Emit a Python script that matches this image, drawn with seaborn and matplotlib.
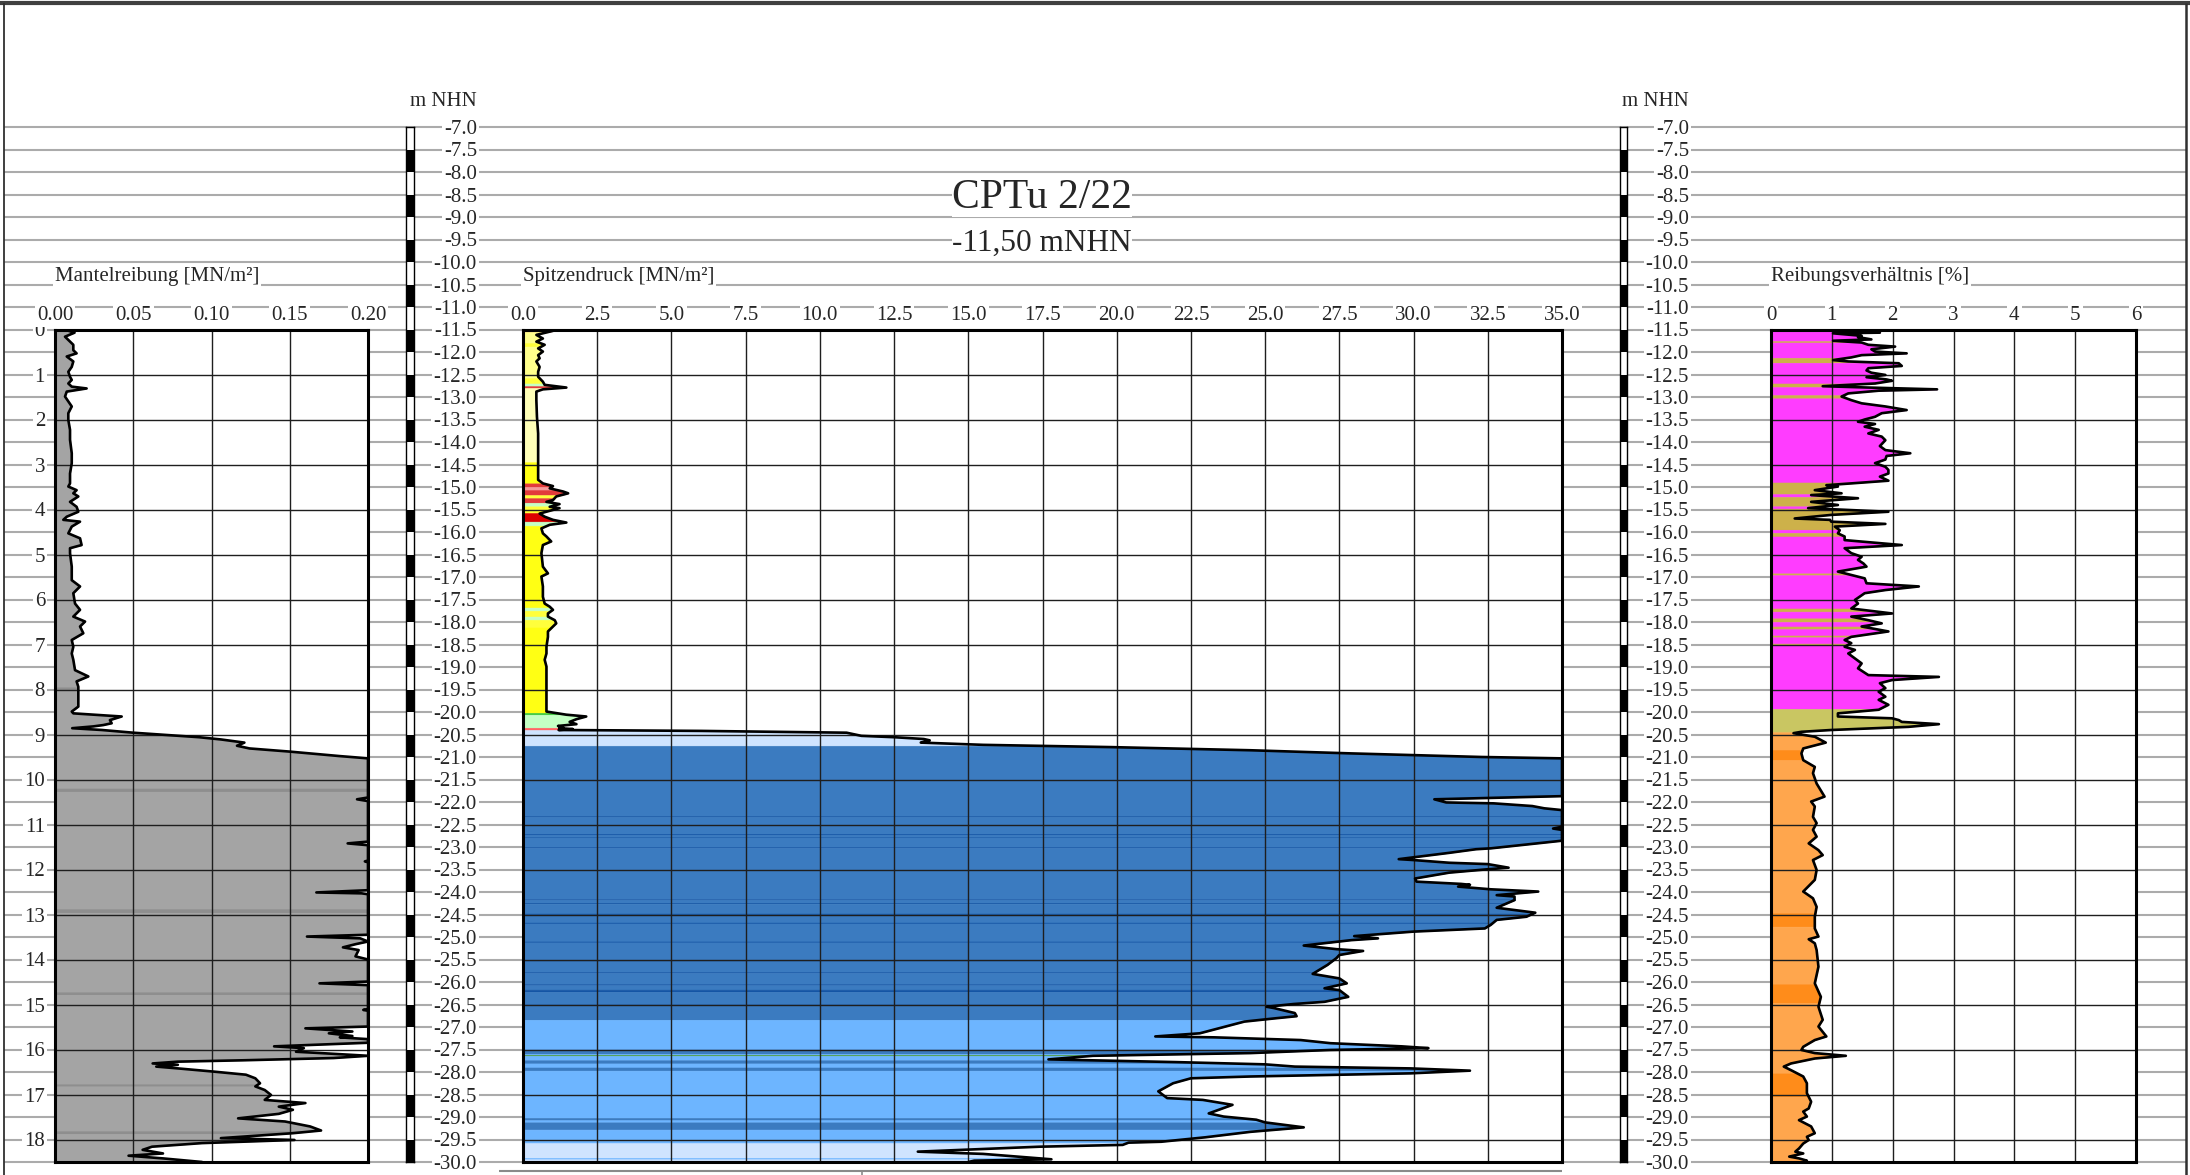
import numpy as np
import matplotlib.pyplot as plt
import seaborn as sns

sns.set_theme(style="white")
plt.rcParams.update({
    'font.family': ['Liberation Serif', 'DejaVu Serif'],
    'axes.unicode_minus': False,
})

# ---------------- data read off the sounding log ----------------
# depth below start point [m], start point at -11.50 m NHN

# sleeve friction (Mantelreibung) [MN/m²]
fs_depth = [0.00, 0.07, 0.16, 0.23, 0.34, 0.46, 0.53, 0.60, 0.71, 0.83,
            0.94, 1.05, 1.12, 1.20, 1.27, 1.31, 1.38, 1.49, 1.71, 1.86,
            2.01, 2.23, 2.45, 2.75, 2.97, 3.20, 3.42, 3.49, 3.57, 3.64,
            3.71, 3.83, 3.94, 4.05, 4.16, 4.23, 4.27, 4.38, 4.53, 4.64,
            4.79, 4.86, 4.97, 5.27, 5.57, 5.71, 5.86, 6.09, 6.23, 6.38,
            6.49, 6.60, 6.75, 6.90, 7.05, 7.20, 7.34, 7.57, 7.71, 7.82,
            7.94, 8.16, 8.38, 8.49, 8.53, 8.60, 8.68, 8.75, 8.79, 8.82,
            8.86, 8.90, 8.96, 9.06, 9.11, 9.18, 9.25, 9.31, 9.38, 9.48,
            9.53, 10.40, 10.44, 10.48, 11.38, 11.42, 11.46, 11.80, 11.82, 11.84,
            12.46, 12.51, 12.53, 12.55, 13.45, 13.49, 13.53, 13.60, 13.66, 13.73,
            13.79, 13.86, 13.93, 14.00, 14.49, 14.53, 14.57, 15.10, 15.12, 15.14,
            15.49, 15.53, 15.60, 15.64, 15.70, 15.73, 15.77, 15.85, 15.93, 15.97,
            16.05, 16.08, 16.14, 16.19, 16.24, 16.27, 16.31, 16.34, 16.38, 16.42,
            16.49, 16.56, 16.64, 16.75, 16.82, 16.90, 17.01, 17.12, 17.19, 17.27,
            17.34, 17.43, 17.53, 17.60, 17.71, 17.80, 17.86, 17.97, 18.01, 18.08,
            18.16, 18.23, 18.31, 18.36, 18.42, 18.50]
fs_value = [0.0060, 0.0125, 0.0064, 0.0085, 0.0117, 0.0117, 0.0138, 0.0075, 0.0117, 0.0107,
            0.0085, 0.0096, 0.0107, 0.0085, 0.0107, 0.0202, 0.0075, 0.0064, 0.0107, 0.0085,
            0.0085, 0.0096, 0.0096, 0.0107, 0.0107, 0.0096, 0.0096, 0.0085, 0.0138, 0.0117,
            0.0149, 0.0096, 0.0138, 0.0149, 0.0075, 0.0053, 0.0160, 0.0107, 0.0085, 0.0160,
            0.0170, 0.0096, 0.0096, 0.0107, 0.0107, 0.0160, 0.0117, 0.0128, 0.0160, 0.0117,
            0.0192, 0.0160, 0.0181, 0.0107, 0.0117, 0.0107, 0.0117, 0.0128, 0.0213, 0.0138,
            0.0149, 0.0149, 0.0149, 0.0107, 0.0117, 0.0426, 0.0351, 0.0362, 0.0309, 0.0245,
            0.0110, 0.0300, 0.0500, 0.0920, 0.1060, 0.1210, 0.1163, 0.1243, 0.1500, 0.1820,
            0.2000, 0.2000, 0.1930, 0.2000, 0.2000, 0.1870, 0.2000, 0.2000, 0.1980, 0.2000,
            0.2000, 0.1670, 0.1960, 0.2000, 0.2000, 0.1610, 0.1950, 0.2000, 0.1920, 0.1840,
            0.1940, 0.1930, 0.1920, 0.2000, 0.2000, 0.1690, 0.2000, 0.2000, 0.1970, 0.2000,
            0.2000, 0.1600, 0.1900, 0.1750, 0.1900, 0.1820, 0.2000, 0.2000, 0.1400, 0.1590,
            0.1540, 0.1700, 0.2000, 0.1780, 0.1200, 0.0785, 0.0624, 0.0785, 0.0647, 0.0785,
            0.1010, 0.1220, 0.1280, 0.1310, 0.1280, 0.1340, 0.1380, 0.1340, 0.1600, 0.1430,
            0.1520, 0.1430, 0.1170, 0.1470, 0.1630, 0.1700, 0.1520, 0.1060, 0.1530, 0.0940,
            0.0620, 0.0560, 0.0690, 0.0470, 0.0690, 0.0940]

# cone resistance (Spitzendruck) [MN/m²]
qc_depth = [0.00, 0.03, 0.12, 0.20, 0.27, 0.34, 0.42, 0.49, 0.57, 0.64,
            0.71, 0.83, 0.94, 1.05, 1.16, 1.23, 1.29, 1.33, 1.38, 1.57,
            1.94, 2.31, 2.68, 3.05, 3.34, 3.42, 3.48, 3.53, 3.60, 3.64,
            3.71, 3.79, 3.83, 3.88, 3.94, 3.97, 4.01, 4.09, 4.16, 4.23,
            4.29, 4.34, 4.42, 4.53, 4.60, 4.71, 4.79, 4.97, 5.27, 5.42,
            5.49, 5.71, 5.94, 6.09, 6.16, 6.23, 6.31, 6.38, 6.46, 6.53,
            6.60, 6.71, 6.83, 7.05, 7.20, 7.34, 7.49, 7.86, 8.23, 8.49,
            8.56, 8.60, 8.66, 8.72, 8.77, 8.81, 8.84, 8.86, 8.88, 8.90,
            8.92, 8.96, 9.03, 9.06, 9.10, 9.13, 9.18, 9.23, 9.28, 9.35,
            9.42, 9.46, 9.50, 9.53, 10.37, 10.44, 10.51, 10.53, 10.59, 10.64,
            10.68, 11.05, 11.09, 11.12, 11.36, 11.53, 11.55, 11.63, 11.77, 11.79,
            11.85, 11.88, 11.96, 12.00, 12.07, 12.20, 12.27, 12.32, 12.34, 12.38,
            12.44, 12.49, 12.57, 12.60, 12.68, 12.85, 12.96, 13.05, 13.12, 13.23,
            13.31, 13.38, 13.48, 13.53, 13.57, 13.69, 13.77, 13.81, 13.90, 13.97,
            14.12, 14.32, 14.42, 14.53, 14.64, 14.68, 14.83, 14.94, 14.99, 15.05,
            15.08, 15.19, 15.26, 15.31, 15.38, 15.45, 15.64, 15.71, 15.73, 15.79,
            15.86, 15.93, 15.97, 16.01, 16.08, 16.14, 16.22, 16.28, 16.33, 16.38,
            16.42, 16.47, 16.53, 16.60, 16.64, 16.75, 16.93, 17.08, 17.12, 17.23,
            17.42, 17.49, 17.56, 17.62, 17.73, 17.83, 17.95, 18.05, 18.07, 18.12,
            18.16, 18.27, 18.32, 18.44, 18.47, 18.50]
qc_value = [0.50, 1.01, 0.45, 0.67, 0.45, 0.73, 0.51, 0.67, 0.51, 0.56,
            0.45, 0.56, 0.51, 0.51, 0.67, 0.73, 1.46, 0.67, 0.45, 0.45,
            0.47, 0.51, 0.51, 0.51, 0.51, 0.67, 1.01, 0.90, 1.35, 1.52,
            1.12, 1.01, 0.79, 1.23, 0.90, 1.23, 1.01, 0.56, 0.73, 1.01,
            1.46, 0.90, 0.62, 0.67, 0.79, 0.95, 0.67, 0.62, 0.67, 0.84,
            0.62, 0.67, 0.67, 0.73, 0.90, 1.01, 0.84, 0.84, 1.07, 1.12,
            1.01, 0.84, 0.84, 0.79, 0.79, 0.73, 0.79, 0.79, 0.79, 0.79,
            1.46, 2.13, 1.80, 1.57, 1.80, 1.18, 1.35, 1.23, 1.68, 1.20,
            6.00, 10.9, 11.4, 12.5, 13.5, 13.7, 13.4, 15.5, 19.8, 24.5,
            27.9, 30.1, 32.3, 35.0, 35.0, 30.7, 31.1, 32.7, 34.0, 34.4,
            35.0, 35.0, 34.7, 35.0, 35.0, 32.6, 32.1, 31.2, 29.5, 30.0,
            31.2, 32.5, 33.2, 32.4, 31.2, 30.05, 30.1, 31.6, 31.9, 31.5,
            32.6, 34.2, 32.8, 33.4, 33.4, 32.8, 34.1, 33.8, 32.8, 32.6,
            32.4, 30.0, 28.0, 28.8, 27.9, 26.3, 27.4, 28.3, 27.5, 27.4,
            27.1, 26.6, 27.5, 27.75, 27.0, 27.5, 27.8, 27.0, 25.95, 25.05,
            25.3, 26.0, 26.06, 25.3, 24.3, 23.9, 22.8, 21.3, 23.3, 26.2,
            27.2, 29.6, 30.5, 27.2, 24.5, 19.2, 17.7, 22.0, 25.0, 26.0,
            29.9, 31.9, 29.9, 24.5, 22.5, 21.9, 21.4, 21.7, 22.9, 23.9,
            23.1, 23.6, 24.7, 25.0, 26.3, 24.5, 23.0, 21.5, 20.4, 20.2,
            17.4, 13.3, 15.5, 17.8, 15.2, 15.0]

# friction ratio (Reibungsverhältnis) [%]
rf_depth = [0.00, 0.07, 0.085, 0.14, 0.17, 0.22, 0.25, 0.29, 0.34, 0.38,
            0.44, 0.49, 0.53, 0.57, 0.62, 0.68, 0.71, 0.75, 0.81, 0.86,
            0.91, 0.96, 1.01, 1.06, 1.11, 1.14, 1.20, 1.26, 1.29, 1.33,
            1.36, 1.42, 1.49, 1.57, 1.64, 1.71, 1.79, 1.86, 1.94, 2.00,
            2.05, 2.10, 2.16, 2.23, 2.31, 2.38, 2.46, 2.59, 2.68, 2.75,
            2.81, 2.89, 2.97, 3.05, 3.12, 3.20, 3.27, 3.36, 3.42, 3.46,
            3.49, 3.57, 3.64, 3.68, 3.75, 3.83, 3.90, 3.97, 4.05, 4.12,
            4.20, 4.23, 4.27, 4.32, 4.38, 4.46, 4.53, 4.60, 4.68, 4.79,
            4.86, 4.97, 5.05, 5.12, 5.20, 5.27, 5.38, 5.455, 5.53, 5.64,
            5.71, 5.79, 5.86, 6.01, 6.09, 6.20, 6.31, 6.38, 6.46, 6.53,
            6.60, 6.71, 6.83, 6.90, 6.97, 7.05, 7.12, 7.20, 7.31, 7.42,
            7.53, 7.68, 7.72, 7.79, 7.86, 7.97, 8.05, 8.16, 8.23, 8.34,
            8.45, 8.53, 8.60, 8.64, 8.68, 8.72, 8.77, 8.83, 8.90, 8.94,
            8.97, 9.05, 9.18, 9.31, 9.42, 9.57, 9.72, 9.86, 10.09, 10.38,
            10.49, 10.60, 10.83, 10.97, 11.12, 11.27, 11.42, 11.57, 11.68, 11.79,
            12.01, 12.23, 12.49, 12.64, 12.83, 13.05, 13.31, 13.49, 13.55, 13.64,
            13.79, 14.16, 14.53, 14.83, 15.05, 15.34, 15.49, 15.71, 15.79, 15.94,
            16.01, 16.08, 16.14, 16.20, 16.31, 16.38, 16.46, 16.60, 16.75, 16.97,
            17.16, 17.31, 17.38, 17.49, 17.57, 17.71, 17.86, 17.94, 18.01, 18.09,
            18.20, 18.27, 18.31, 18.38, 18.42, 18.47, 18.50]
rf_value = [1.10, 1.79, 1.02, 1.49, 1.43, 1.65, 1.02, 1.49, 1.60, 2.04,
            1.65, 1.71, 2.23, 1.49, 1.32, 1.02, 1.27, 2.10, 2.15, 1.60,
            1.57, 1.65, 1.88, 1.57, 1.90, 1.99, 1.71, 0.85, 1.60, 2.73,
            1.77, 1.27, 1.16, 1.32, 1.49, 1.88, 2.23, 1.82, 1.71, 1.54,
            1.43, 1.71, 1.54, 1.77, 1.60, 1.82, 1.88, 1.79, 1.88, 2.29,
            1.90, 1.88, 1.71, 1.88, 1.93, 1.93, 1.79, 1.93, 1.32, 0.91,
            1.10, 0.72, 1.16, 0.66, 1.43, 0.66, 1.10, 0.61, 1.93, 0.99,
            0.39, 0.97, 0.99, 1.88, 1.05, 1.13, 1.10, 1.21, 1.21, 2.15,
            1.21, 1.32, 1.49, 1.43, 1.52, 1.57, 1.10, 1.32, 1.54, 1.57,
            2.43, 1.88, 1.54, 1.38, 1.43, 1.32, 1.99, 1.32, 1.60, 1.82,
            1.49, 1.93, 1.32, 1.21, 1.32, 1.21, 1.38, 1.27, 1.38, 1.49,
            1.43, 1.60, 2.76, 1.99, 1.79, 1.88, 1.77, 1.88, 1.77, 1.93,
            1.77, 1.10, 1.10, 1.99, 2.10, 2.15, 2.76, 2.26, 0.99, 0.50,
            0.37, 0.72, 0.90, 0.53, 0.50, 0.53, 0.72, 0.69, 0.75, 0.88,
            0.66, 0.72, 0.69, 0.75, 0.69, 0.75, 0.62, 0.78, 0.85, 0.69,
            0.75, 0.72, 0.53, 0.69, 0.75, 0.72, 0.72, 0.78, 0.62, 0.72,
            0.75, 0.78, 0.72, 0.82, 0.78, 0.85, 0.78, 0.91, 0.72, 0.53,
            0.50, 0.72, 1.23, 0.72, 0.33, 0.21, 0.33, 0.53, 0.59, 0.59,
            0.66, 0.62, 0.53, 0.59, 0.46, 0.66, 0.72, 0.59, 0.62, 0.53,
            0.46, 0.40, 0.53, 0.30, 0.46, 0.59, 0.55]

# soil-behaviour colour bands: top depth of each band and its colour key
fs_zone_top = [0.00, 7.94, 8.01, 10.18, 10.27, 12.88, 12.96, 14.72, 14.79, 16.77,
               16.82, 17.81, 17.88]
fs_zone_key = ['grey', 'dgrey', 'grey', 'dgrey', 'grey', 'dgrey', 'grey', 'dgrey', 'grey', 'dgrey',
               'grey', 'dgrey', 'grey']

qc_zone_top = [0.00, 0.05, 0.30, 0.38, 1.08, 1.20, 1.26, 1.30, 2.95, 3.42,
               3.50, 3.57, 3.68, 3.75, 3.85, 3.93, 4.08, 4.27, 4.36, 6.18,
               6.25, 6.38, 6.45, 6.62, 8.52, 8.56, 8.85, 8.90, 9.25, 10.00,
               10.03, 10.81, 10.83, 11.22, 11.24, 11.27, 11.29, 11.50, 11.52, 12.65,
               12.67, 12.74, 12.76, 12.98, 13.01, 13.18, 13.20, 13.60, 13.62, 14.01,
               14.04, 14.28, 14.30, 14.55, 14.57, 14.67, 14.72, 15.00, 15.03, 15.34,
               16.00, 16.10, 16.12, 16.14, 16.24, 16.31, 16.40, 16.47, 17.52, 17.57,
               17.62, 17.78, 18.08, 18.41, 18.44]
qc_zone_key = ['red', 'pale', 'yel', 'pale', 'yel', 'lgreen', 'red', 'pale2', 'yel2', 'red',
               'pink', 'red', 'yel', 'red', 'lgreen', 'yel', 'dred', 'lgreen', 'yel2', 'lgreen',
               'yel', 'lgreen', 'yel', 'yel2', 'green', 'lgreen', 'lred', 'vlblue', 'blue', 'dblue',
               'blue', 'dblue', 'blue', 'dblue', 'blue', 'dblue', 'blue', 'dblue', 'blue', 'dblue',
               'blue', 'dblue', 'blue', 'dblue', 'blue', 'dblue', 'blue', 'dblue', 'blue', 'dblue',
               'blue', 'dblue', 'blue', 'dblue', 'blue', 'dblue', 'blue', 'dblue', 'blue', 'lblue',
               'blue', 'lblue', 'dgreen', 'lblue', 'blue', 'lblue', 'blue', 'lblue', 'blue', 'lblue',
               'blue', 'lblue', 'vlblue', 'lblue', 'vlblue']

rf_zone_top = [0.00, 0.26, 0.29, 0.63, 0.74, 1.20, 1.28, 1.46, 1.53, 3.40,
               3.66, 3.72, 3.93, 3.98, 4.45, 4.52, 4.60, 5.42, 5.46, 6.20,
               6.27, 6.42, 6.50, 6.60, 6.66, 6.80, 6.84, 6.98, 7.02, 8.43,
               8.95, 9.34, 9.57, 12.97, 13.27, 14.55, 14.97, 16.53, 17.05]
rf_zone_key = ['mag', 'olive', 'mag', 'olive', 'mag', 'olive', 'mag', 'olive', 'mag', 'olive',
               'mag', 'olive', 'mag', 'olive', 'mag', 'olive', 'mag', 'olive', 'mag', 'olive',
               'mag', 'olive', 'mag', 'olive', 'mag', 'olive', 'mag', 'olive', 'mag', 'khaki',
               'orange', 'dorange', 'orange', 'dorange', 'orange', 'dorange', 'orange', 'dorange', 'orange']

ZONE_COLORS = {
    'grey': '#a4a4a4', 'dgrey': '#8e8e8e',
    'red': '#e23b3b', 'dred': '#dc0000', 'lred': '#ff6464', 'pink': '#f59a9a',
    'pale': '#ffff8c', 'pale2': '#ffffb8', 'yel': '#ffff3c', 'yel2': '#ffff14',
    'lgreen': '#c4ffc4', 'green': '#3cc83c', 'dgreen': '#4b9a3b',
    'vlblue': '#cfe4ff', 'lblue': '#6db5ff', 'blue': '#3b7bc0', 'dblue': '#1455a5',
    'mag': '#ff3cff', 'olive': '#cdb14a', 'khaki': '#c9c662',
    'orange': '#ffa64d', 'dorange': '#ff8c1a',
}

elev_ticks = np.arange(-7.0, -30.01, -0.5)
depth_labels = list(range(0, 19))
fs_ticks = [0.00, 0.05, 0.10, 0.15, 0.20]
qc_ticks = np.arange(0.0, 35.01, 2.5)
rf_ticks = [0, 1, 2, 3, 4, 5, 6]

# ---------------- sheet layout (pixels) ----------------
W, H = 2190, 1175
Y_TOP = 127.0            # row of the -7.0 m NHN line
PX_PER_M = 45.0
ELEV_TOP = -7.0
ELEV_START = -11.5
DEPTH_MAX = 18.5
PANEL_Y0 = Y_TOP + (ELEV_TOP - ELEV_START) * PX_PER_M
PANEL_Y1 = PANEL_Y0 + DEPTH_MAX * PX_PER_M

TEXT_SIZE = 15
LINE_GREY = '#ababab'
BOX = dict(facecolor='white', edgecolor='none', pad=1.5)


def elev(px_row):
    return ELEV_TOP - (px_row - Y_TOP) / PX_PER_M


fig = plt.figure(figsize=(W / 100, H / 100), dpi=100)


def add_axes_px(x0, x1, y0, y1):
    return fig.add_axes([x0 / W, 1 - y1 / H, (x1 - x0) / W, (y1 - y0) / H])


# background sheet with elevation lines
sheet = add_axes_px(0, W, 0, H)
sheet.set_xlim(0, W)
sheet.set_ylim(elev(H), elev(0))
sheet.axis('off')
sheet.set_zorder(0)

sheet.hlines(elev_ticks, 4, 2186, color=LINE_GREY, linewidth=1.5, zorder=1)
sheet.hlines(elev(3), 0, W, color='#404040', linewidth=3)
sheet.vlines(4, elev(H), elev(3), color='#303030', linewidth=1.3)
sheet.vlines(2186, elev(H), elev(3), color='#303030', linewidth=1.8)
sheet.hlines(elev(1171), 499, 1562, color='#8a8a8a', linewidth=1.5)
sheet.vlines(862, elev(H), elev(1171), color='#8a8a8a', linewidth=1.2)

for xr in (477, 1689):
    sheet.text(xr, elev(101), 'm NHN', ha='right', va='center', fontsize=TEXT_SIZE)
    for e in elev_ticks:
        sheet.text(xr, e, f'{e:.1f}', ha='right', va='center_baseline',
                   fontsize=TEXT_SIZE, bbox=BOX, zorder=3)

for d in depth_labels:
    sheet.text(45, ELEV_START - d, str(d), ha='right', va='center_baseline',
               fontsize=TEXT_SIZE, bbox=BOX, zorder=3)

sheet.text(1042, elev(198), 'CPTu 2/22', ha='center', va='center', fontsize=30,
           bbox=dict(facecolor='white', edgecolor='none', pad=0), zorder=3)
sheet.text(1042, elev(243), '-11,50 mNHN', ha='center', va='center', fontsize=22.5,
           bbox=dict(facecolor='white', edgecolor='none', pad=0), zorder=3)

for x0, title in ((55, 'Mantelreibung [MN/m²]'),
                  (523, 'Spitzendruck [MN/m²]'),
                  (1771, 'Reibungsverhältnis [%]')):
    sheet.text(x0, elev(281), title, ha='left', va='baseline', fontsize=TEXT_SIZE,
               bbox=BOX, zorder=3)


# elevation scale bars
def draw_bar(x0, x1):
    axb = add_axes_px(x0, x1, Y_TOP, PANEL_Y1)
    axb.set_zorder(2)
    axb.set_facecolor('white')
    axb.set_xlim(0, 1)
    axb.set_ylim(elev_ticks[-1], elev_ticks[0])
    for e in elev_ticks[1::2]:
        axb.axhspan(e - 0.5, e, color='black', linewidth=0)
    axb.set_xticks([])
    axb.set_yticks([])
    for s in axb.spines.values():
        s.set_visible(True)
        s.set_color('black')
        s.set_linewidth(1.0)


draw_bar(406, 414)
draw_bar(1620, 1627)


# log panels
def draw_panel(x0, x1, depth, values, zone_top, zone_key, xmax, ticks, ticklabels):
    ax = add_axes_px(x0, x1, PANEL_Y0, PANEL_Y1)
    ax.set_zorder(2)
    ax.set_facecolor('white')
    depth = np.asarray(depth, dtype=float)
    values = np.asarray(values, dtype=float)

    bounds = list(zone_top) + [DEPTH_MAX]
    for top, bot, key in zip(bounds[:-1], bounds[1:], zone_key):
        inner = depth[(depth > top) & (depth < bot)]
        dd = np.concatenate([[top], inner, [bot]])
        ax.fill_betweenx(dd, 0, np.interp(dd, depth, values),
                         color=ZONE_COLORS[key], linewidth=0.4, zorder=1)

    sns.lineplot(x=values, y=depth, sort=False, estimator=None, errorbar=None,
                 orient='y', color='black', linewidth=1.9, ax=ax, zorder=4)

    ax.set_xlim(0, xmax)
    ax.set_ylim(DEPTH_MAX, 0)
    ax.xaxis.tick_top()
    ax.set_xticks(ticks, ticklabels, fontsize=TEXT_SIZE, bbox=BOX)
    ax.tick_params(axis='x', length=0, pad=3.5, top=True, bottom=False,
                   labeltop=True, labelbottom=False)
    ax.set_yticks(np.arange(1, 19))
    ax.set_yticklabels([])
    ax.tick_params(axis='y', length=0)
    ax.grid(True, color='#1e1e1e', linewidth=1.0)
    ax.set_axisbelow(False)
    ax.set_xlabel('')
    ax.set_ylabel('')
    for s in ax.spines.values():
        s.set_visible(True)
        s.set_color('black')
        s.set_linewidth(2.2)
        s.set_zorder(5)
    return ax


draw_panel(55, 368, fs_depth, fs_value, fs_zone_top, fs_zone_key,
           0.20, fs_ticks, [f'{t:.2f}' for t in fs_ticks])
draw_panel(523, 1562, qc_depth, qc_value, qc_zone_top, qc_zone_key,
           35.0, qc_ticks, [f'{t:.1f}' for t in qc_ticks])
draw_panel(1771, 2136, rf_depth, rf_value, rf_zone_top, rf_zone_key,
           6.0, rf_ticks, [str(t) for t in rf_ticks])

fig.savefig('out.png', dpi=100)
